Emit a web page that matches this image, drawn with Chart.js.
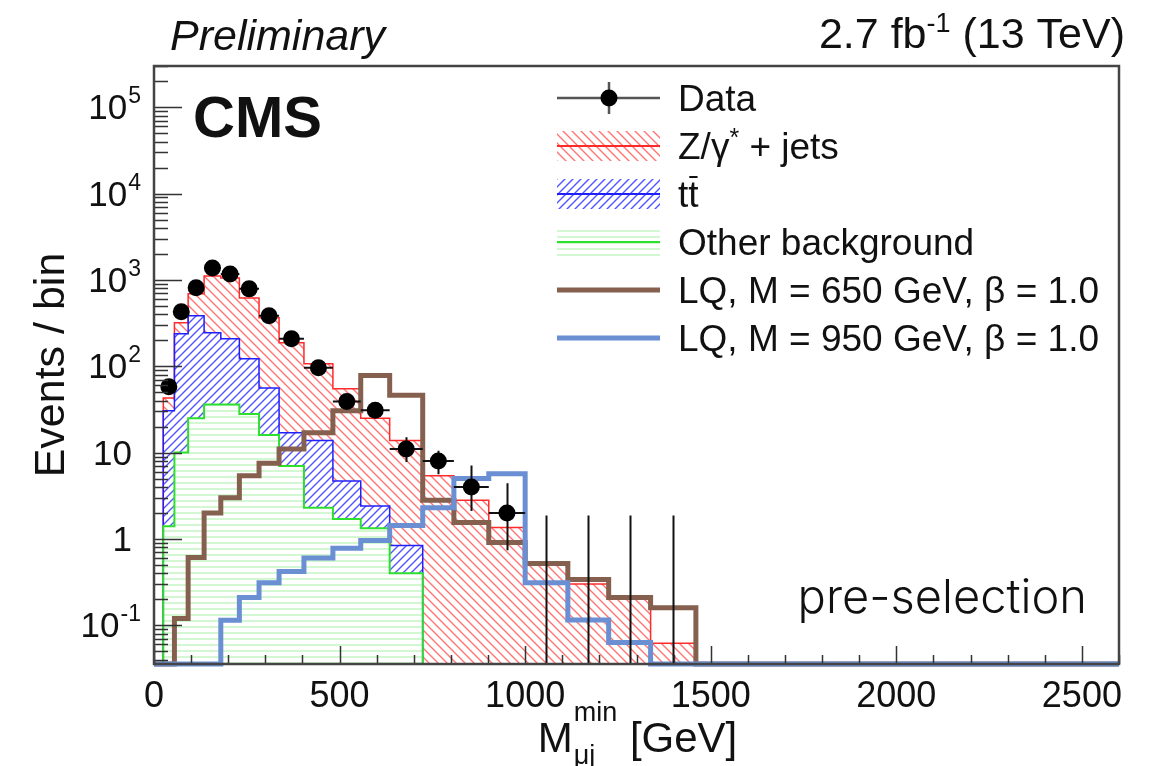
<!DOCTYPE html>
<html>
<head>
<meta charset="utf-8">
<title>M_mu_j min - pre-selection</title>
<script src="https://cdn.jsdelivr.net/npm/chart.js@4.4.0/dist/chart.umd.min.js"></script>
<style>
  html, body { margin: 0; padding: 0; background: #fff; }
  #wrap { width: 1151px; height: 766px; }
</style>
</head>
<body>
<div id="wrap"><canvas id="mmujChart" width="1151" height="766"></canvas></div>
<script>
// Histogram binning (GeV)
const binEdges = [0, 25, 55, 92, 135, 180, 230, 283, 337, 404, 482, 557, 635, 724, 808, 902, 1000, 1115, 1225, 1338, 1460, 2600];

// Observed data (null = no marker) and its error bar ends
const dataCounts = [null, 58, 427, 809, 1377, 1173, 787, 384, 208, 96, 39, 31, 11, 8, 4, 2, 0, 0, 0, 0, null];
const dataLow    = [null, 51, 407, 781, 1340, 1139, 759, 365, 194, 86, 33, 26, 7.8, 5.6, 2.1, 0.74, 0, 0, 0, 0, null];
const dataHigh   = [null, 66, 448, 838, 1414, 1207, 815, 404, 223, 107, 46, 37, 15, 10.5, 7.1, 4.4, 1.87, 1.87, 1.87, 1.87, null];

// Backgrounds (stacked: other, then ttbar, then Z/gamma* + jets)
const otherBkg = [0, 1.4, 10, 25, 36, 36, 28, 16, 7, 2.3, 1.7, 1.33, 0.4, 0, 0, 0, 0, 0, 0, 0, 0];
const ttbar    = [0, 29.2, 228, 359, 208, 172, 94, 40, 10, 11.5, 3.0, 1.07, 0.44, 0, 0, 0, 0, 0, 0, 0, 0];
const zJets    = [0, 12.4, 80, 305, 868, 842, 495, 308, 170, 93, 50, 22.6, 13, 5.4, 2.8, 1.36, 0.5, 0.3, 0.2, 0.062, 0];

// Signal hypotheses
const lq650 = [0, 0, 0.12, 0.61, 2.0, 3.0, 5.4, 7.5, 11, 17, 30.6, 78, 46, 2.8, 1.55, 0.91, 0.52, 0.34, 0.21, 0.16, 0];
const lq950 = [0, 0, 0, 0, 0, 0.114, 0.21, 0.31, 0.42, 0.6, 0.78, 0.96, 1.43, 2.3, 5.0, 5.7, 0.31, 0.115, 0.063, 0, 0];

// Axis ticks (y labels as [base, exponent])
const xTickValues = [0, 500, 1000, 1500, 2000, 2500];
const yTickValues = [0.1, 1, 10, 100, 1000, 10000, 100000];
const yTickLabels = [['10', '-1'], ['1', ''], ['10', ''], ['10', '2'], ['10', '3'], ['10', '4'], ['10', '5']];

const legendLabels = ['Data', 'Z/\u03B3* + jets', 'tt\u0304', 'Other background', 'LQ, M = 650 GeV, \u03B2 = 1.0', 'LQ, M = 950 GeV, \u03B2 = 1.0'];

const Y_MIN = 0.0356;
const Y_MAX = 3.0e5;
const X_MAX = 2600;
const FONT = '"Liberation Sans", Arial, Helvetica, sans-serif';

const RED_LINE = '#ff2a2a';
const BLUE_LINE = '#2020ff';
const GREEN_LINE = '#2ee02e';
const BROWN = '#86604e';
const LQ_BLUE = '#6b8fd3';

function clampLog(v) {
  return v > Y_MIN ? v : Y_MIN;
}

// step outline points, dropping to the bottom at both ends
function histPoints(vals) {
  const n = vals.length;
  const pts = [{ x: binEdges[0], y: Y_MIN }];
  for (let i = 0; i < n; i++) pts.push({ x: binEdges[i], y: clampLog(vals[i]) });
  pts.push({ x: binEdges[n], y: clampLog(vals[n - 1]) });
  pts.push({ x: binEdges[n], y: Y_MIN });
  return pts;
}

const stackGreen = otherBkg.slice();
const stackBlue = otherBkg.map((v, i) => v + ttbar[i]);
const stackRed = stackBlue.map((v, i) => v + zJets[i]);
const binCenters = binEdges.slice(0, -1).map((e, i) => (e + binEdges[i + 1]) / 2);
const dataPoints = dataCounts.map((v, i) => ({ x: binCenters[i], y: v > 0 ? v : null }));

const canvas = document.getElementById('mmujChart');
const ctx = canvas.getContext('2d');

function makeHatch(kind, color, size, width) {
  const c = document.createElement('canvas');
  c.width = size; c.height = size;
  const g = c.getContext('2d');
  g.strokeStyle = color;
  g.lineWidth = width;
  g.beginPath();
  if (kind === 'down') {
    g.moveTo(-1, -1); g.lineTo(size + 1, size + 1);
    g.moveTo(-1, size - 1); g.lineTo(1, size + 1);
    g.moveTo(size - 1, -1); g.lineTo(size + 1, 1);
  } else if (kind === 'up') {
    g.moveTo(-1, size + 1); g.lineTo(size + 1, -1);
    g.moveTo(-1, 1); g.lineTo(1, -1);
    g.moveTo(size - 1, size + 1); g.lineTo(size + 1, size - 1);
  } else {
    g.moveTo(0, size / 2); g.lineTo(size, size / 2);
  }
  g.stroke();
  return ctx.createPattern(c, 'repeat');
}

const redHatch = makeHatch('down', 'rgba(255,70,70,0.75)', 9, 1.4);
const blueHatch = makeHatch('up', 'rgba(40,40,255,0.8)', 8, 1.4);
const greenHatch = makeHatch('flat', 'rgba(90,225,90,0.45)', 6, 1.2);

// Draw text pieces one after another: [text, font, dy]
function drawRich(c, parts, x, y, align) {
  let total = 0;
  parts.forEach(p => { c.font = p[1]; total += c.measureText(p[0]).width; });
  let cx = align === 'right' ? x - total : (align === 'center' ? x - total / 2 : x);
  parts.forEach(p => {
    c.font = p[1];
    c.fillText(p[0], cx, y + (p[2] || 0));
    cx += c.measureText(p[0]).width;
  });
}

// Data error bars, drawn just below the markers
const errorBars = {
  id: 'errorBars',
  beforeDatasetDraw(chart, args) {
    if (args.index !== 0) return;
    const { ctx: c, chartArea: a, scales: { x, y } } = chart;
    c.save();
    c.beginPath();
    c.rect(a.left, a.top, a.right - a.left, a.bottom - a.top);
    c.clip();
    c.strokeStyle = '#111';
    c.lineWidth = 2;
    c.beginPath();
    dataCounts.forEach((n, i) => {
      if (n === null) return;
      const cx = Math.round(x.getPixelForValue(binCenters[i])) + 0.5;
      c.moveTo(cx, y.getPixelForValue(clampLog(dataLow[i])));
      c.lineTo(cx, y.getPixelForValue(dataHigh[i]));
      if (n > 0) {
        const py = y.getPixelForValue(n);
        c.moveTo(x.getPixelForValue(binEdges[i]), py);
        c.lineTo(x.getPixelForValue(binEdges[i + 1]), py);
      }
    });
    c.stroke();
    c.restore();
  }
};

// ROOT-like frame with inward ticks and y labels with exponents
const frameTicks = {
  id: 'frameTicks',
  afterDatasetsDraw(chart) {
    const { ctx: c, chartArea: a, scales: { x, y } } = chart;
    c.save();
    c.strokeStyle = '#333';
    c.lineWidth = 1.5;
    c.beginPath();
    for (let d = -2; d <= 5; d++) {
      for (let m = 1; m <= 9; m++) {
        const v = m * Math.pow(10, d);
        if (v < Y_MIN || v > Y_MAX) continue;
        const py = Math.round(y.getPixelForValue(v)) + 0.5;
        c.moveTo(a.left, py);
        c.lineTo(a.left + (m === 1 ? 28 : 14), py);
      }
    }
    for (let v = 0; v <= X_MAX; v += 100) {
      const px = Math.round(x.getPixelForValue(v)) + 0.5;
      c.moveTo(px, a.bottom);
      c.lineTo(px, a.bottom - (v % 500 === 0 ? 18 : 9));
    }
    c.stroke();
    c.strokeStyle = '#444';
    c.lineWidth = 2.5;
    c.strokeRect(a.left, a.top, a.right - a.left, a.bottom - a.top);

    c.fillStyle = '#111';
    c.textBaseline = 'alphabetic';
    c.textAlign = 'left';
    yTickValues.forEach((v, i) => {
      const [base, exp] = yTickLabels[i];
      const py = y.getPixelForValue(v);
      c.font = '35px ' + FONT;
      const wb = c.measureText(base).width;
      c.font = '23px ' + FONT;
      const we = exp ? c.measureText(exp).width : 0;
      const right = exp ? a.left - 14 : a.left - 22;
      const bx = right - we - wb;
      c.font = '35px ' + FONT;
      c.fillText(base, bx, py + 12);
      if (exp) {
        c.font = '23px ' + FONT;
        c.fillText(exp, bx + wb + 1, py - 4);
      }
    });
    c.restore();
  }
};

// Header, labels and legend
const annotations = {
  id: 'annotations',
  afterDraw(chart) {
    const { ctx: c, chartArea: a } = chart;
    c.save();
    c.fillStyle = '#111';
    c.textBaseline = 'alphabetic';

    c.textAlign = 'left';
    c.font = 'italic 43px ' + FONT;
    c.fillText('Preliminary', 170, 50);

    drawRich(c, [
      ['2.7 fb', '43px ' + FONT],
      ['-1', '27px ' + FONT, -16],
      [' (13 TeV)', '43px ' + FONT]
    ], 1125, 48, 'right');

    c.font = 'bold 58px ' + FONT;
    c.fillText('CMS', 193, 137);

    c.font = '300 47px Inter, Roboto, ' + FONT;
    c.textAlign = 'right';
    c.fillText('pre-selection', 1087, 613);
    c.textAlign = 'left';

    // x axis title with super/subscript
    const main = '42px ' + FONT, small = '27px ' + FONT;
    c.font = main;
    const wM = c.measureText('M').width;
    const wGeV = c.measureText(' [GeV]').width;
    c.font = small;
    const wScript = Math.max(c.measureText('min').width, c.measureText('\u03BCj').width);
    const tx = (a.left + a.right) / 2 - (wM + wScript + wGeV) / 2;
    c.font = main;
    c.fillText('M', tx, 752);
    c.font = small;
    c.fillText('min', tx + wM + 1, 721);
    c.fillText('\u03BCj', tx + wM + 1, 764);
    c.font = main;
    c.fillText(' [GeV]', tx + wM + wScript + 2, 752);

    // legend
    const x0 = 557, x1 = 660, tx0 = 678;
    const f = '37px ' + FONT;
    legendLabels.forEach((label, i) => {
      const yc = 98 + 48 * i;
      if (i === 0) {
        c.strokeStyle = '#555';
        c.lineWidth = 2.5;
        c.beginPath();
        c.moveTo(x0, yc); c.lineTo(x1, yc);
        c.moveTo(609, yc - 16); c.lineTo(609, yc + 16);
        c.stroke();
        c.fillStyle = '#000';
        c.beginPath();
        c.arc(609, yc, 8.5, 0, Math.PI * 2);
        c.fill();
      } else if (i <= 3) {
        const fills = [null, redHatch, blueHatch, greenHatch];
        const lines = [null, RED_LINE, BLUE_LINE, GREEN_LINE];
        c.fillStyle = fills[i];
        c.fillRect(x0, yc - 15, x1 - x0, 30);
        c.strokeStyle = lines[i];
        c.lineWidth = 2;
        c.beginPath();
        c.moveTo(x0, yc); c.lineTo(x1, yc);
        c.stroke();
      } else {
        c.strokeStyle = i === 4 ? BROWN : LQ_BLUE;
        c.lineWidth = 5;
        c.beginPath();
        c.moveTo(x0, yc); c.lineTo(x1, yc);
        c.stroke();
      }
      c.fillStyle = '#111';
      const base = yc + 13;
      if (i === 1) {
        drawRich(c, [['Z/\u03B3', f], ['*', '25px ' + FONT, -13], [' + jets', f]], tx0, base, 'left');
      } else if (i === 2) {
        c.font = f;
        c.fillText('tt', tx0, base);
        const wt = c.measureText('t').width;
        c.strokeStyle = '#111';
        c.lineWidth = 2;
        c.beginPath();
        c.moveTo(tx0 + wt + 1, base - 30); c.lineTo(tx0 + 2 * wt - 1, base - 30);
        c.stroke();
      } else {
        c.font = f;
        c.fillText(label, tx0, base);
      }
    });
    c.restore();
  }
};

const histDefaults = { stepped: true, pointRadius: 0, borderJoinStyle: 'miter', borderCapStyle: 'butt' };

new Chart(ctx, {
  type: 'line',
  data: {
    datasets: [
      {
        label: legendLabels[0], data: dataPoints, showLine: false,
        pointRadius: 8.5, pointBackgroundColor: '#000', pointBorderWidth: 0, pointHoverRadius: 8.5
      },
      Object.assign({ label: legendLabels[5], data: histPoints(lq950), borderColor: LQ_BLUE, borderWidth: 5, fill: false, clip: false }, histDefaults),
      Object.assign({ label: legendLabels[4], data: histPoints(lq650), borderColor: BROWN, borderWidth: 5, fill: false, clip: false }, histDefaults),
      Object.assign({ label: legendLabels[3], data: histPoints(stackGreen), borderColor: GREEN_LINE, borderWidth: 2, backgroundColor: greenHatch, fill: 'origin' }, histDefaults),
      Object.assign({ label: legendLabels[2], data: histPoints(stackBlue), borderColor: BLUE_LINE, borderWidth: 1.5, backgroundColor: blueHatch, fill: '-1' }, histDefaults),
      Object.assign({ label: legendLabels[1], data: histPoints(stackRed), borderColor: RED_LINE, borderWidth: 1.5, backgroundColor: redHatch, fill: '-1' }, histDefaults)
    ]
  },
  options: {
    responsive: false,
    animation: false,
    devicePixelRatio: 1,
    layout: { padding: { left: 0, right: 32, top: 66, bottom: 0 } },
    plugins: {
      legend: { display: false },
      tooltip: { enabled: false }
    },
    scales: {
      x: {
        type: 'linear',
        min: 0,
        max: X_MAX,
        grid: { display: false },
        border: { display: false },
        afterBuildTicks: s => { s.ticks = xTickValues.map(v => ({ value: v })); },
        afterFit: s => { s.height = 102; },
        ticks: {
          autoSkip: false, maxRotation: 0, padding: 3, color: '#111',
          font: { family: FONT, size: 36 },
          callback: v => String(v)
        }
      },
      y: {
        type: 'logarithmic',
        min: Y_MIN,
        max: Y_MAX,
        grid: { display: false },
        border: { display: false },
        afterBuildTicks: s => { s.ticks = yTickValues.map(v => ({ value: v })); },
        afterFit: s => { s.width = 154; },
        ticks: { display: false },
        title: {
          display: true, text: 'Events / bin', color: '#111',
          font: { family: FONT, size: 43 },
          padding: { top: 26, bottom: 0 }
        }
      }
    }
  },
  plugins: [errorBars, frameTicks, annotations]
});
</script>
</body>
</html>
